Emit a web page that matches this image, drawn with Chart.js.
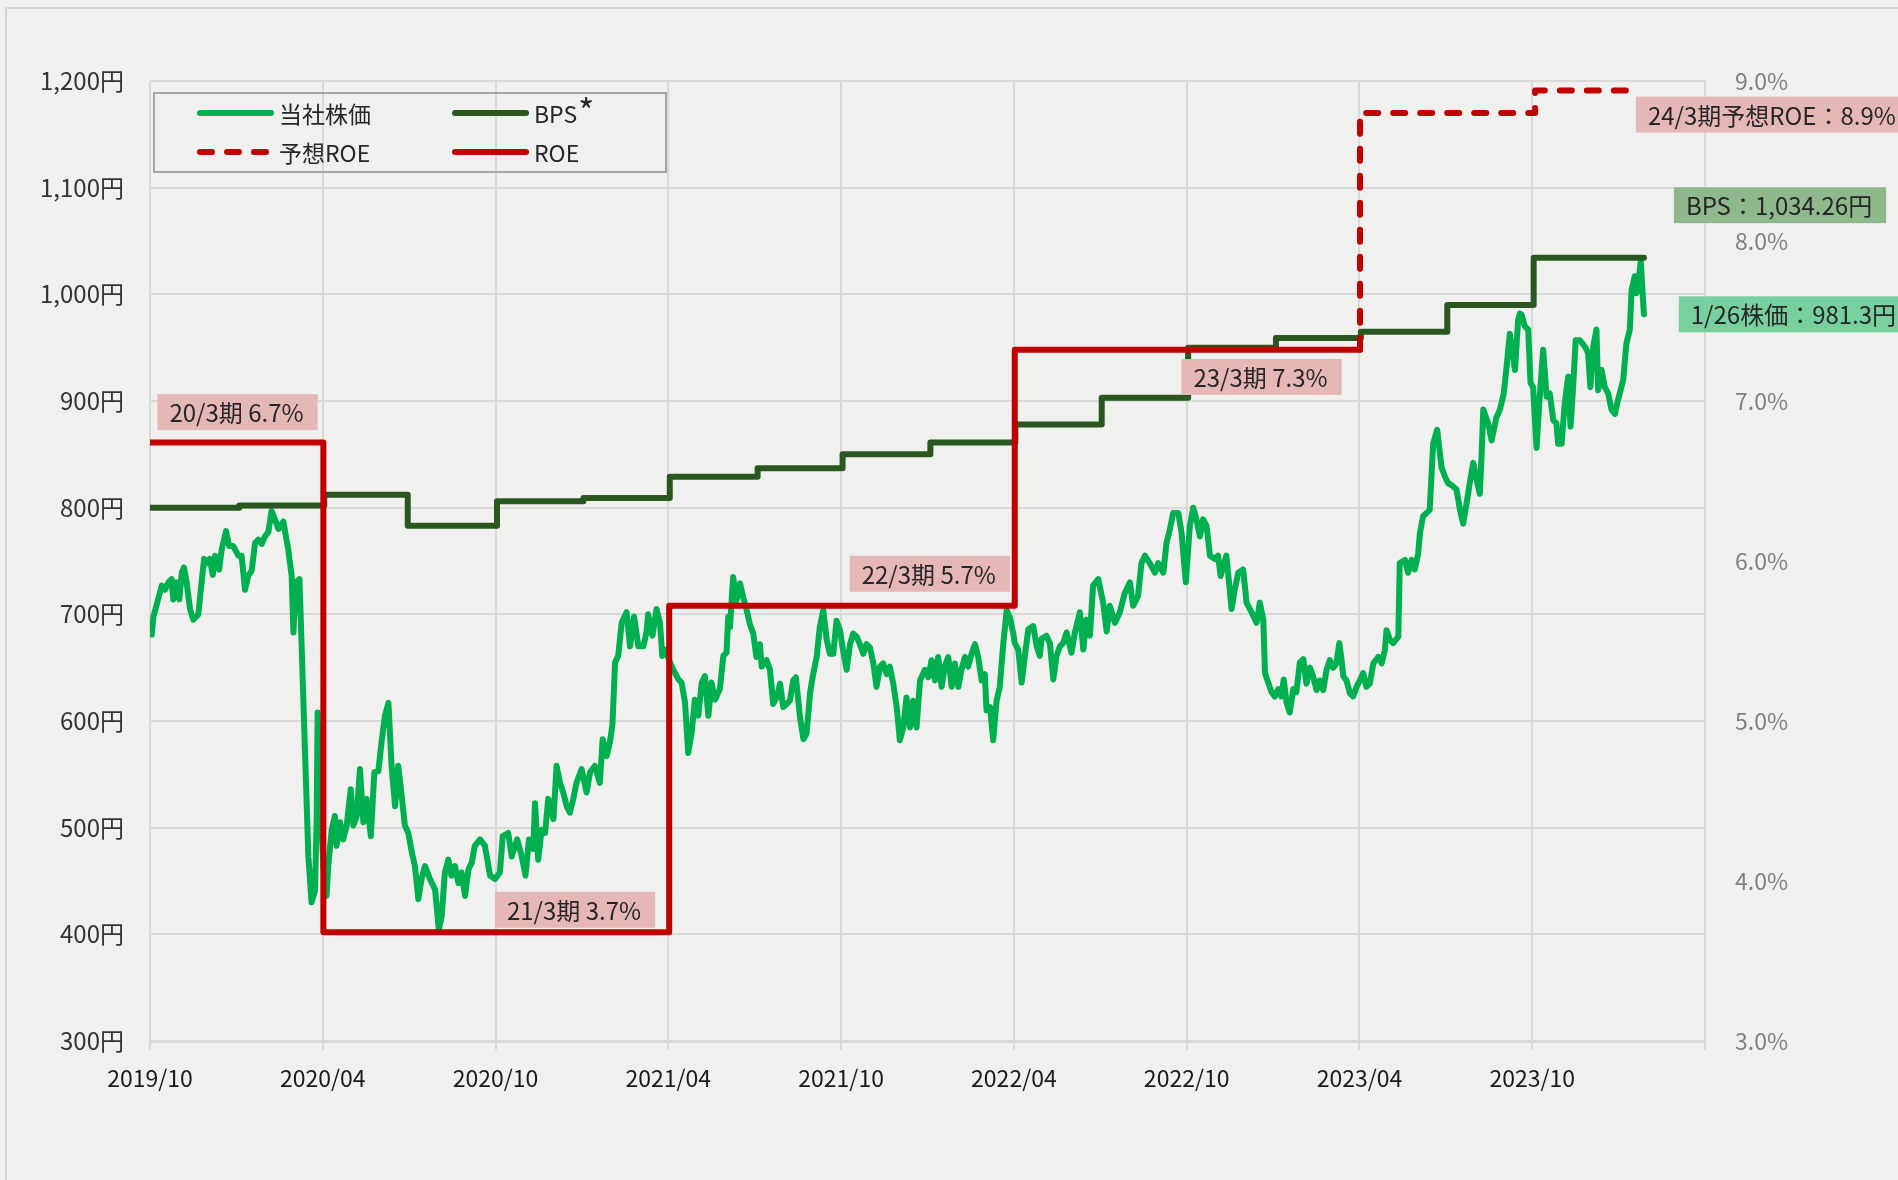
<!DOCTYPE html>
<html lang="ja">
<head>
<meta charset="utf-8">
<title>当社株価・BPS・ROE推移</title>
<script src="https://cdn.jsdelivr.net/npm/chart.js@4.4.1/dist/chart.umd.min.js"></script>
<style>
  html, body { margin: 0; padding: 0; background: #f0f0ee; }
  #wrap { position: relative; width: 1898px; height: 1180px; overflow: hidden; }
  #frame { position: absolute; left: 5px; top: 7px; width: 1910px; height: 1200px; border: 2px solid #d5d5d3; box-sizing: border-box; }
  #chart { position: absolute; left: 0; top: 0; }
</style>
</head>
<body>
<div id="wrap">
  <div id="frame"></div>
  <canvas id="chart" width="1898" height="1180"></canvas>
</div>
<script>
// x = months since 2019/10/01
const xTickLabels = ['2019/10', '2020/04', '2020/10', '2021/04', '2021/10', '2022/04', '2022/10', '2023/04', '2023/10', ''];

// 当社株価 (円)
const priceMonth = [
  0.06,0.12,0.23,0.41,0.52,0.64,0.75,0.81,0.93,1.02,
  1.10,1.18,1.27,1.39,1.50,1.68,1.74,1.88,1.97,2.08,
  2.18,2.26,2.40,2.49,2.64,2.75,2.89,3.07,3.18,3.30,
  3.41,3.53,3.65,3.76,3.88,3.99,4.11,4.22,4.34,4.46,
  4.63,4.80,4.92,4.98,5.07,5.19,5.27,5.38,5.50,5.61,
  5.73,5.79,5.82,5.90,6.02,6.13,6.19,6.31,6.42,6.48,
  6.60,6.71,6.83,6.97,7.06,7.18,7.29,7.41,7.52,7.67,
  7.79,7.93,8.04,8.16,8.28,8.39,8.51,8.62,8.74,8.85,
  8.97,9.09,9.20,9.32,9.43,9.55,9.72,9.90,10.03,10.13,
  10.24,10.36,10.47,10.59,10.71,10.82,10.94,11.06,11.17,11.28,
  11.46,11.63,11.81,11.98,12.15,12.25,12.44,12.56,12.75,12.91,
  13.04,13.16,13.31,13.37,13.48,13.60,13.72,13.83,14.01,14.12,
  14.24,14.35,14.47,14.58,14.70,14.81,14.99,15.16,15.28,15.45,
  15.62,15.72,15.86,15.97,16.06,16.15,16.26,16.38,16.55,16.67,
  16.81,16.96,17.13,17.24,17.30,17.45,17.59,17.71,17.79,17.88,
  18.17,18.35,18.46,18.58,18.69,18.81,18.92,19.04,19.16,19.27,
  19.39,19.50,19.62,19.79,19.91,20.02,20.08,20.14,20.25,20.37,
  20.49,20.60,20.72,20.83,20.95,21.06,21.18,21.24,21.41,21.53,
  21.64,21.76,21.88,21.99,22.11,22.22,22.34,22.43,22.57,22.69,
  22.80,22.92,23.03,23.15,23.26,23.38,23.50,23.61,23.73,23.84,
  23.96,24.07,24.19,24.31,24.42,24.54,24.65,24.77,24.88,25.00,
  25.12,25.23,25.35,25.46,25.58,25.69,25.81,25.93,26.04,26.16,
  26.27,26.39,26.50,26.62,26.74,26.91,27.03,27.14,27.26,27.37,
  27.49,27.60,27.72,27.84,27.95,28.07,28.18,28.30,28.41,28.53,
  28.65,28.76,28.88,28.99,29.05,29.17,29.28,29.40,29.51,29.63,
  29.75,29.86,29.98,30.03,30.15,30.27,30.38,30.50,30.67,30.79,
  30.90,30.96,31.13,31.25,31.37,31.48,31.60,31.71,31.83,32.00,
  32.12,32.29,32.41,32.52,32.64,32.75,32.93,33.10,33.22,33.33,
  33.51,33.68,33.85,34.03,34.14,34.31,34.43,34.55,34.72,34.90,
  35.01,35.19,35.30,35.42,35.53,35.71,35.82,35.97,36.11,36.23,
  36.34,36.46,36.57,36.69,36.81,36.98,37.09,37.18,37.27,37.38,
  37.56,37.67,37.79,37.96,38.08,38.25,38.43,38.54,38.66,38.72,
  38.83,38.95,39.06,39.18,39.29,39.37,39.47,39.58,39.70,39.81,
  39.93,40.05,40.16,40.28,40.39,40.51,40.62,40.74,40.86,40.97,
  41.09,41.20,41.30,41.38,41.44,41.55,41.67,41.78,41.90,42.01,
  42.13,42.24,42.36,42.48,42.65,42.77,42.88,42.94,43.06,43.17,
  43.35,43.40,43.58,43.69,43.81,43.92,44.04,44.10,44.21,44.33,
  44.44,44.56,44.70,44.85,44.97,45.08,45.25,45.37,45.49,45.60,
  45.72,45.83,45.95,46.07,46.18,46.24,46.30,46.47,46.59,46.76,
  46.88,47.01,47.11,47.22,47.34,47.40,47.51,47.57,47.63,47.74,
  47.86,47.94,48.03,48.15,48.26,48.38,48.50,48.61,48.73,48.84,
  48.90,49.02,49.13,49.25,49.33,49.42,49.51,49.65,49.83,49.94,
  50.02,50.12,50.23,50.29,50.41,50.52,50.64,50.75,50.87,50.98,
  51.16,51.27,51.39,51.45,51.56,51.62,51.71,51.77,51.84,51.88
];
const priceYen = [
  681,698,709,727,723,730,733,714,730,714,
  739,744,730,705,695,700,717,752,748,752,
  737,755,742,761,778,764,764,755,755,723,
  736,741,767,770,766,773,777,797,789,780,
  787,761,736,683,730,733,667,573,473,430,
  441,511,608,542,464,436,464,498,511,483,
  505,489,502,536,502,511,555,505,527,492,
  552,553,580,605,617,558,520,558,530,502,
  495,477,464,433,452,464,452,442,404,417,
  458,470,455,464,448,458,436,461,467,483,
  489,483,455,452,458,492,495,473,489,473,
  455,489,480,523,470,498,495,527,508,558,
  542,533,520,514,527,542,555,533,552,558,
  542,583,567,580,597,655,661,692,702,670,
  698,670,670,683,700,680,705,692,661,667,
  648,639,636,617,570,589,620,605,636,642,
  605,636,620,630,661,664,698,688,735,713,
  729,716,704,691,682,660,672,651,657,648,
  616,622,635,613,616,619,638,641,604,583,
  588,626,644,660,688,704,676,663,663,694,
  685,666,648,672,682,679,672,663,672,669,
  654,632,651,654,644,651,635,613,582,594,
  622,594,619,594,638,648,641,657,638,660,
  632,651,660,632,654,632,648,660,651,663,
  672,660,638,644,610,613,582,619,632,672,
  704,697,682,673,667,636,661,686,689,670,
  661,677,680,673,639,661,670,673,683,664,
  683,702,667,695,680,727,733,711,684,708,
  692,702,720,730,708,717,748,755,748,739,
  748,739,767,780,795,795,777,730,783,800,
  789,773,789,783,755,752,755,736,745,755,
  705,723,739,742,711,702,692,711,695,645,
  636,627,623,630,623,639,617,608,630,627,
  655,658,635,650,642,629,638,629,648,657,
  650,654,673,657,642,638,626,623,632,638,
  645,632,635,654,660,654,666,685,676,673,
  679,748,751,739,751,742,757,776,792,795,
  798,860,873,838,829,823,820,817,798,785,
  804,823,842,826,813,848,892,879,863,885,
  892,907,932,963,942,929,976,982,981,970,
  967,917,913,856,904,948,904,907,882,879,
  860,860,898,923,876,913,957,957,951,945,
  913,951,967,910,929,913,907,892,888,901,
  920,954,967,1004,1017,1001,1017,1031,998,981.3
];

// BPS (円), each value holds until the next month entry
const bpsMonth = [0, 3.1, 6.05, 8.95, 12.05, 15.05, 18.05, 21.1, 24.05, 27.1, 30.05, 33.05, 36.05, 39.1, 42.05, 45.05, 48.05, 51.88];
const bpsYen   = [800, 802, 812, 783, 806, 809, 829, 837, 850, 861, 878, 903, 950, 959, 965, 990, 1034.26, 1034.26];

// ROE (%) and 予想ROE (%)
const roeMonth = [0, 6.02, 18.03, 30.03, 42.02];
const roePct   = [6.74, 3.68, 5.72, 7.32, 7.32];
const roeForecastMonth = [42.02, 48.1, 51.56];
const roeForecastPct   = [7.32, 8.8, 8.94];

const FONT = '"Noto Sans CJK JP", "Noto Sans", sans-serif';
Chart.defaults.font.family = FONT;

const toPoints = (xs, ys) => xs.map((x, i) => ({ x: x, y: ys[i] }));

// label boxes: anchored in data units (month, axis value)
const tags = [
  { text: '20/3期 6.7%', month: 3.04, value: 6.93, axis: 'y1', bg: '#e5b8b7' },
  { text: '21/3期 3.7%', month: 14.76, value: 3.82, axis: 'y1', bg: '#e5b8b7' },
  { text: '22/3期 5.7%', month: 27.08, value: 5.92, axis: 'y1', bg: '#e5b8b7' },
  { text: '23/3期 7.3%', month: 38.6, value: 7.15, axis: 'y1', bg: '#e5b8b7' },
  { text: '24/3期予想ROE：8.9%', month: 51.6, value: 8.79, axis: 'y1', bg: '#e5b8b7', left: true },
  { text: 'BPS：1,034.26円', month: 52.92, value: 1083.6, axis: 'y', bg: '#8fb98c', left: true },
  { text: '1/26株価：981.3円', month: 53.09, value: 981.3, axis: 'y', bg: '#78d09f', left: true }
];

const tagPlugin = {
  id: 'tags',
  afterDatasetsDraw(chart) {
    const ctx = chart.ctx;
    ctx.save();
    ctx.font = '24px ' + FONT;
    ctx.textBaseline = 'middle';
    tags.forEach(t => {
      const cx = chart.scales.x.getPixelForValue(t.month);
      const cy = chart.scales[t.axis].getPixelForValue(t.value);
      const w = ctx.measureText(t.text).width + 26;
      const left = t.left ? cx : cx - w / 2;
      ctx.fillStyle = t.bg;
      ctx.fillRect(left, cy - 18, w, 36);
      ctx.fillStyle = '#262626';
      ctx.fillText(t.text, left + 12, cy + 1);
    });
    ctx.restore();
  }
};

const legendPlugin = {
  id: 'boxLegend',
  afterDraw(chart) {
    const { ctx, chartArea } = chart;
    const x0 = chartArea.left + 4, y0 = chartArea.top + 12;
    ctx.save();
    ctx.strokeStyle = '#a6a6a6';
    ctx.lineWidth = 2;
    ctx.strokeRect(x0, y0, 512, 79);
    ctx.textBaseline = 'middle';
    chart.data.datasets.forEach((ds, i) => {
      const lx = x0 + 46 + (i % 2) * 255;
      const ly = y0 + 20 + Math.floor(i / 2) * 39;
      ctx.beginPath();
      ctx.setLineDash(ds.borderDash || []);
      ctx.lineCap = 'round';
      ctx.strokeStyle = ds.borderColor;
      ctx.lineWidth = 6;
      ctx.moveTo(lx, ly);
      ctx.lineTo(lx + 71, ly);
      ctx.stroke();
      ctx.setLineDash([]);
      ctx.fillStyle = '#262626';
      ctx.font = '23px ' + FONT;
      const star = ds.label.endsWith('*');
      const txt = star ? ds.label.slice(0, -1) : ds.label;
      ctx.fillText(txt, lx + 79, ly + 1);
      if (star) {
        const after = lx + 79 + ctx.measureText(txt).width + 1;
        ctx.font = '34px ' + FONT;
        ctx.fillText('*', after, ly - 2);
      }
    });
    ctx.restore();
  }
};

const lineStyle = { pointRadius: 0, borderWidth: 6, borderJoinStyle: 'round', borderCapStyle: 'round', fill: false };

new Chart(document.getElementById('chart').getContext('2d'), {
  type: 'line',
  data: {
    datasets: [
      Object.assign({ label: '当社株価', data: toPoints(priceMonth, priceYen), borderColor: '#00b050', yAxisID: 'y', order: 4 }, lineStyle),
      Object.assign({ label: 'BPS*', data: toPoints(bpsMonth, bpsYen), borderColor: '#2a5720', yAxisID: 'y', stepped: 'before', order: 3 }, lineStyle),
      Object.assign({ label: '予想ROE', data: toPoints(roeForecastMonth, roeForecastPct), borderColor: '#c00000', borderDash: [12, 15], yAxisID: 'y1', stepped: 'after', order: 2 }, lineStyle),
      Object.assign({ label: 'ROE', data: toPoints(roeMonth, roePct), borderColor: '#c00000', yAxisID: 'y1', stepped: 'before', order: 1 }, lineStyle)
    ]
  },
  options: {
    responsive: false,
    animation: false,
    layout: { padding: { top: 81, left: 0, right: 0, bottom: 0 } },
    plugins: { legend: { display: false }, tooltip: { enabled: false } },
    scales: {
      x: {
        type: 'linear',
        min: 0,
        max: 54,
        afterFit: s => { s.height = 139; },
        grid: { color: '#d9d9d9', lineWidth: 2, tickLength: 9 },
        border: { color: '#d9d9d9', width: 3 },
        ticks: {
          stepSize: 6,
          autoSkip: false,
          maxRotation: 0,
          padding: 14,
          color: '#1a1a1a',
          font: { size: 23 },
          callback: v => xTickLabels[Math.round(v / 6)]
        }
      },
      y: {
        position: 'left',
        min: 300,
        max: 1200,
        afterFit: s => { s.width = 150; },
        grid: { color: '#d9d9d9', lineWidth: 2, drawTicks: false },
        border: { display: false },
        ticks: {
          stepSize: 100,
          padding: 26,
          color: '#333333',
          font: { size: 24 },
          callback: v => v.toLocaleString('ja-JP') + '円'
        }
      },
      y1: {
        position: 'right',
        min: 3,
        max: 9,
        afterFit: s => { s.width = 193; },
        grid: { display: false, drawTicks: false },
        border: { display: false },
        ticks: {
          stepSize: 1,
          padding: 30,
          color: '#808080',
          font: { size: 23 },
          callback: v => v.toFixed(1) + '%'
        }
      }
    }
  },
  plugins: [tagPlugin, legendPlugin]
});
</script>
</body>
</html>
